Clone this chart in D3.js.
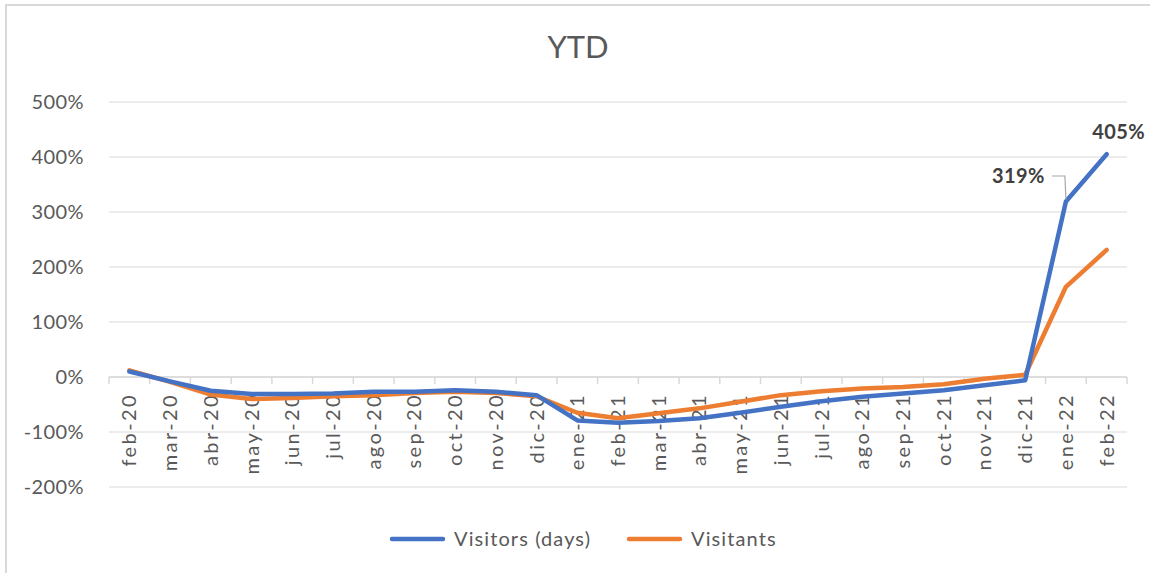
<!DOCTYPE html>
<html>
<head>
<meta charset="utf-8">
<script src="https://cdnjs.cloudflare.com/ajax/libs/d3/7.8.5/d3.min.js"></script>
<style>
  html, body { margin: 0; padding: 0; background: #fff; }
  svg { display: block; font-family: Lato, "Open Sans", sans-serif; }
</style>
</head>
<body>
<script>
'use strict';

// chart data
const months = ['feb-20', 'mar-20', 'abr-20', 'may-20', 'jun-20', 'jul-20', 'ago-20',
  'sep-20', 'oct-20', 'nov-20', 'dic-20', 'ene-21', 'feb-21', 'mar-21', 'abr-21',
  'may-21', 'jun-21', 'jul-21', 'ago-21', 'sep-21', 'oct-21', 'nov-21', 'dic-21',
  'ene-22', 'feb-22'];
const visitorsDays = [10, -8, -25, -31, -31, -30, -27, -27, -24, -27, -33, -79, -83,
  -80, -75, -65, -54, -44, -36, -30, -24, -15, -6, 319, 405];
const visitants = [12, -9, -32, -40, -38, -35, -33, -29, -27, -29, -35, -65, -75,
  -66, -57, -45, -33, -26, -21, -18, -13, -3, 4, 164, 231];
const yTicks = [-200, -100, 0, 100, 200, 300, 400, 500];
const seriesNames = ['Visitors (days)', 'Visitants'];
const seriesColors = ['#4472C4', '#ED7D31'];

(function() {
  let svgContainer = '';
  const textColor = '#595959';

  window.onload = function() {
    svgContainer = d3.select('body')
      .append('svg')
      .attr('width', 1150)
      .attr('height', 573);

    // outer chart border (right and bottom fall outside the picture)
    svgContainer.append('rect')
      .attr('x', 6)
      .attr('y', 5)
      .attr('width', 1160)
      .attr('height', 580)
      .attr('fill', 'none')
      .attr('stroke', '#d9d9d9')
      .attr('stroke-width', 2);

    let scales = drawAxes();
    plotGraph(scales);
    makeLabels(scales);
    makeLegend();
  }

  function drawAxes() {
    let xScale = d3.scaleBand()
      .domain(months)
      .range([109, 1127])
      .padding(0);

    let yScale = d3.scaleLinear()
      .domain([-200, 500])
      .range([487, 102]);

    // horizontal gridlines
    svgContainer.append('g')
      .selectAll('line')
      .data(yTicks)
      .enter()
      .append('line')
        .attr('x1', 109)
        .attr('x2', 1127)
        .attr('y1', (d) => yScale(d))
        .attr('y2', (d) => yScale(d))
        .attr('stroke', '#d9d9d9')
        .attr('stroke-width', 1);

    // y labels
    svgContainer.append('g')
      .selectAll('text')
      .data(yTicks)
      .enter()
      .append('text')
        .attr('x', 84)
        .attr('y', (d) => yScale(d))
        .attr('dy', '0.35em')
        .attr('text-anchor', 'end')
        .style('font-size', '20px')
        .style('letter-spacing', '0.4px')
        .attr('fill', textColor)
        .text((d) => d + '%');

    // category axis crossing at 0%
    let y0 = yScale(0);
    svgContainer.append('line')
      .attr('x1', 109)
      .attr('x2', 1127)
      .attr('y1', y0)
      .attr('y2', y0)
      .attr('stroke', '#d9d9d9')
      .attr('stroke-width', 1.5);

    let edges = months.map((m) => xScale(m)).concat([xScale.range()[1]]);
    svgContainer.append('g')
      .selectAll('line')
      .data(edges)
      .enter()
      .append('line')
        .attr('x1', (d) => d)
        .attr('x2', (d) => d)
        .attr('y1', y0)
        .attr('y2', y0 + 7)
        .attr('stroke', '#d9d9d9')
        .attr('stroke-width', 1.5);

    svgContainer.append('g')
      .selectAll('text')
      .data(months)
      .enter()
      .append('text')
        .attr('transform', (d) => 'translate(' + (xScale(d) + xScale.bandwidth() / 2) + ',' + (y0 + 16) + ')rotate(-90)')
        .attr('dy', '0.35em')
        .attr('text-anchor', 'end')
        .style('font-size', '20px')
        .style('letter-spacing', '2.4px')
        .attr('fill', textColor)
        .text((d) => d);

    return { x: xScale, y: yScale };
  }

  function plotGraph(scales) {
    let xMap = (d, i) => scales.x(months[i]) + scales.x.bandwidth() / 2;
    let line = d3.line()
      .x(xMap)
      .y((d) => scales.y(d));

    // orange first, blue on top as in the reference
    [visitants, visitorsDays].forEach((values, k) => {
      svgContainer.append('path')
        .attr('d', line(values))
        .attr('fill', 'none')
        .attr('stroke', k === 0 ? seriesColors[1] : seriesColors[0])
        .attr('stroke-width', 4.5)
        .attr('stroke-linejoin', 'round')
        .attr('stroke-linecap', 'round');
    });
  }

  function makeLabels(scales) {
    svgContainer.append('text')
      .attr('x', 578)
      .attr('y', 58)
      .attr('text-anchor', 'middle')
      .style('font-size', '31px')
      .attr('fill', textColor)
      .text('YTD');

    let last = months.length - 1;
    let cx = (i) => scales.x(months[i]) + scales.x.bandwidth() / 2;

    // 405% above last point
    svgContainer.append('text')
      .attr('x', cx(last) + 12)
      .attr('y', 139)
      .attr('text-anchor', 'middle')
      .style('font-size', '20px')
      .style('font-weight', 'bold')
      .style('letter-spacing', '0.4px')
      .attr('fill', '#404040')
      .text(visitorsDays[last] + '%');

    // 319% with leader line
    let px = cx(last - 1);
    let py = scales.y(visitorsDays[last - 1]);
    svgContainer.append('path')
      .attr('d', 'M' + (px - 14) + ',176H' + (px - 1) + 'L' + px + ',' + (py - 2))
      .attr('fill', 'none')
      .attr('stroke', '#a6a6a6')
      .attr('stroke-width', 1.2);

    svgContainer.append('text')
      .attr('x', px - 21)
      .attr('y', 183)
      .attr('text-anchor', 'end')
      .style('font-size', '20px')
      .style('font-weight', 'bold')
      .style('letter-spacing', '0.4px')
      .attr('fill', '#404040')
      .text(visitorsDays[last - 1] + '%');
  }

  function makeLegend() {
    let entries = [
      { x: 390, name: seriesNames[0], color: seriesColors[0] },
      { x: 627, name: seriesNames[1], color: seriesColors[1] }
    ];

    let g = svgContainer.append('g');
    entries.forEach((e) => {
      g.append('line')
        .attr('x1', e.x + 2)
        .attr('x2', e.x + 53)
        .attr('y1', 539)
        .attr('y2', 539)
        .attr('stroke', e.color)
        .attr('stroke-width', 4.5)
        .attr('stroke-linecap', 'round');
      g.append('text')
        .attr('x', e.x + 64)
        .attr('y', 539)
        .attr('dy', '0.35em')
        .style('font-size', '20px')
        .style('letter-spacing', '1.1px')
        .attr('fill', textColor)
        .text(e.name);
    });
  }
})();
</script>
</body>
</html>
